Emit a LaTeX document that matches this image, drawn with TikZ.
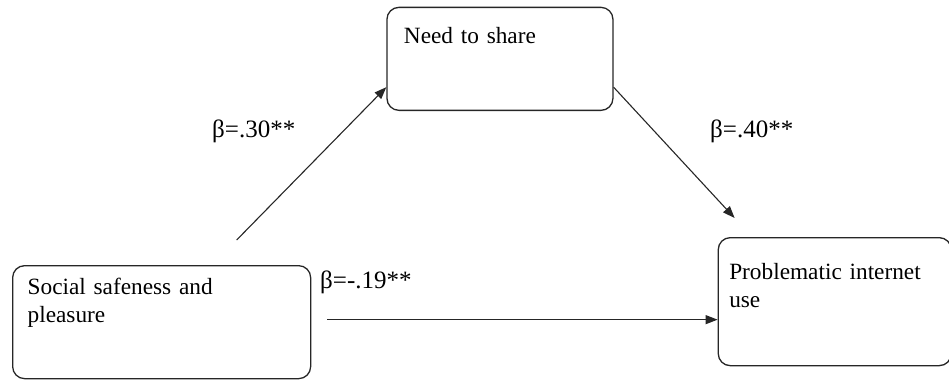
\documentclass[tikz,border=0pt]{standalone}
\usepackage{fontspec}
\setmainfont{Liberation Serif}
\usetikzlibrary{positioning,arrows.meta}

\tikzset{
  construct/.style={draw=black!85, line width=1.3pt, rounded corners=12pt,
    align=left, inner ysep=0pt, font=\fontsize{23.3}{27.5}\selectfont},
  coef/.style={font=\fontsize{25}{30}\selectfont, inner sep=0pt, anchor=base west},
  path/.style={draw=black!85, line width=1.1pt, -{Triangle[length=12pt,width=9pt]}}
}

\begin{document}
\begin{tikzpicture}[x=1pt,y=-1pt]
\useasboundingbox (0,0) rectangle (949,383);

% Define nodes

\node[construct, anchor=north west, inner xsep=15pt, text width=268pt,
      text height=29pt, text depth=84pt] (social) at (12,265)
      {Social safeness and\\pleasure};

\node[construct, above right=154pt and 75pt of social.north east, anchor=south west,
      inner xsep=17pt, text width=192pt, text height=36pt, text depth=67pt] (need)
      {Need to share};

\node[construct, below right=126pt and 104pt of need.south east, anchor=north west,
      inner xsep=11pt, text width=211pt, text height=42pt, text depth=86pt] (prob)
      {Problematic internet\\use};

\coordinate[above=25pt of social.north, xshift=75pt] (s1);
\coordinate[right=16pt of social.east, yshift=2.5pt] (s2);
\coordinate[above right=19pt and 17pt of prob.north west] (p1);

\node[coef] (b30) at (212,137) {β=.30**};
\node[coef] (b40) at (710,137) {β=.40**};
\node[coef] (b19) at (320,288) {β=-.19**};

% Connect the nodes
\draw[path] (s1) -- (need.194) ; %
\draw[path] (need.-14) -- (p1) ; %
\draw[path] (s2) -- (s2 -| prob.west) ; %

\end{tikzpicture}
\end{document}
